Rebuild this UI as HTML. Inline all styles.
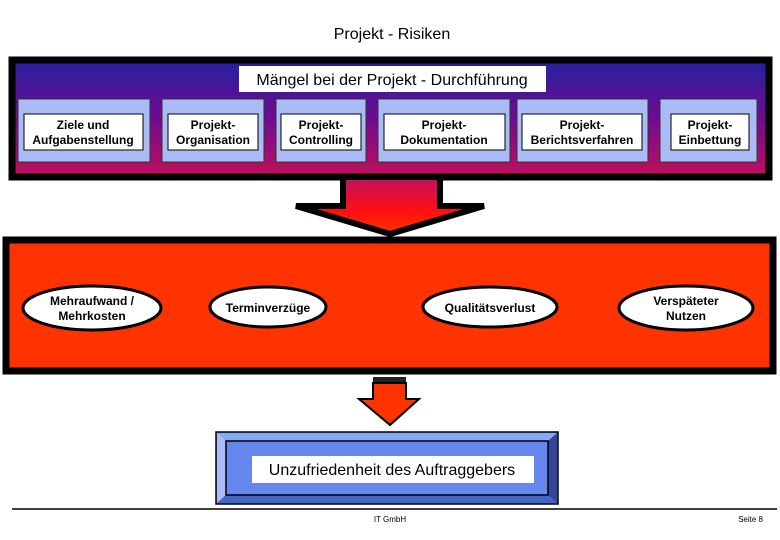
<!DOCTYPE html>
<html><head><meta charset="utf-8"><style>
html,body{margin:0;padding:0;background:#fff;}
svg{display:block;font-family:"Liberation Sans",Arial,sans-serif;}
</style></head><body>
<svg width="780" height="540" viewBox="0 0 780 540" xmlns="http://www.w3.org/2000/svg">
<defs>
<linearGradient id="g1" x1="0" y1="0" x2="0" y2="1">
<stop offset="0" stop-color="#2222a0"/><stop offset="0.5" stop-color="#700a90"/><stop offset="1" stop-color="#c0105a"/>
</linearGradient>
<linearGradient id="g2" x1="0" y1="0" x2="0" y2="1">
<stop offset="0" stop-color="#c01060"/><stop offset="0.6" stop-color="#ff1010"/><stop offset="1" stop-color="#ff3300"/>
</linearGradient>
</defs>
<text x="392" y="39" font-size="16" text-anchor="middle">Projekt - Risiken</text>
<rect x="12" y="60" width="757" height="117" fill="url(#g1)" stroke="#000" stroke-width="7"/>
<rect x="239" y="66" width="307" height="26" fill="#fff"/>
<text x="392" y="85" font-size="16" text-anchor="middle">Mängel bei der Projekt - Durchführung</text>
<g fill="#aabbf5" stroke="#333" stroke-width="1">
<rect x="18" y="99" width="132" height="63"/>
<rect x="162" y="99" width="102" height="63"/>
<rect x="276" y="99" width="90" height="63"/>
<rect x="378" y="99" width="132" height="63"/>
<rect x="517" y="99" width="131" height="63"/>
<rect x="660" y="99" width="97" height="63"/>
</g>
<g fill="#fff" stroke="#000" stroke-width="1">
<rect x="24" y="114" width="119" height="36"/>
<rect x="168" y="114" width="90" height="36"/>
<rect x="281" y="114" width="80" height="36"/>
<rect x="384" y="114" width="121" height="36"/>
<rect x="522" y="114" width="120" height="36"/>
<rect x="671" y="114" width="78" height="36"/>
</g>
<g font-size="12" text-anchor="middle" font-weight="bold">
<text x="83" y="129">Ziele und</text><text x="83" y="144">Aufgabenstellung</text>
<text x="213" y="129">Projekt-</text><text x="213" y="144">Organisation</text>
<text x="321" y="129">Projekt-</text><text x="321" y="144">Controlling</text>
<text x="444" y="129">Projekt-</text><text x="444" y="144">Dokumentation</text>
<text x="582" y="129">Projekt-</text><text x="582" y="144">Berichtsverfahren</text>
<text x="710" y="129">Projekt-</text><text x="710" y="144">Einbettung</text>
</g>
<polygon points="343,177 440,177 440,206 484,206 390,234 296,206 343,206" fill="url(#g2)" stroke="#000" stroke-width="6" stroke-linejoin="miter"/>
<rect x="6" y="240" width="767" height="131" fill="#ff3300" stroke="#000" stroke-width="7"/>
<g fill="#fff" stroke="#000" stroke-width="3">
<ellipse cx="92" cy="308" rx="69" ry="22"/>
<ellipse cx="268" cy="307" rx="58" ry="20"/>
<ellipse cx="490" cy="307" rx="67" ry="20"/>
<ellipse cx="686" cy="308" rx="67" ry="22"/>
</g>
<g font-size="12" text-anchor="middle" font-weight="bold">
<text x="92" y="305">Mehraufwand /</text><text x="92" y="320">Mehrkosten</text>
<text x="268" y="312">Terminverzüge</text>
<text x="490" y="312">Qualitätsverlust</text>
<text x="686" y="305">Verspäteter</text><text x="686" y="320">Nutzen</text>
</g>
<rect x="373" y="377" width="33" height="6" fill="#222"/>
<polygon points="373,383 406,383 406,399 419,399 390,425 359,399 373,399" fill="#ff3300" stroke="#000" stroke-width="2"/>
<rect x="216" y="432" width="342" height="72" fill="#6688ee" stroke="#000" stroke-width="1.5"/>
<polygon points="217,433 557,433 548,441 226,441" fill="#88aaf5"/>
<polygon points="217,433 226,441 226,495 217,503" fill="#aabbf8"/>
<polygon points="557,433 548,441 548,495 557,503" fill="#334499"/>
<polygon points="217,503 226,495 548,495 557,503" fill="#4466cc"/>
<rect x="226" y="441" width="322" height="54" fill="#6688ee" stroke="#000" stroke-width="1.5"/>
<rect x="252" y="456" width="282" height="27" fill="#fff"/>
<text x="392" y="475" font-size="16" text-anchor="middle">Unzufriedenheit des Auftraggebers</text>
<line x1="12" y1="509" x2="777" y2="509" stroke="#000" stroke-width="1.5"/>
<text x="390" y="522" font-size="8" text-anchor="middle">IT GmbH</text>
<text x="763" y="522" font-size="8" text-anchor="end">Seite 8</text>
</svg>
</body></html>
